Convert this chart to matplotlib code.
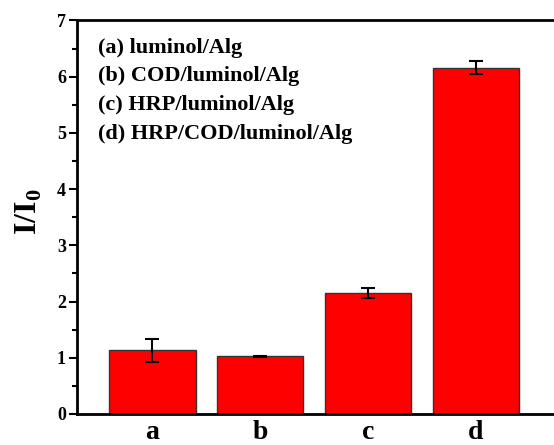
import matplotlib.pyplot as plt
from matplotlib.ticker import MultipleLocator

# data
labels = ['a', 'b', 'c', 'd']
values = [1.13, 1.03, 2.15, 6.16]
errors = [0.20, 0.01, 0.09, 0.12]
legend_lines = ['(a) luminol/Alg', '(b) COD/luminol/Alg',
                '(c) HRP/luminol/Alg', '(d) HRP/COD/luminol/Alg']

plt.rcParams['font.family'] = ['Liberation Serif', 'DejaVu Serif']
plt.rcParams['font.weight'] = 'bold'
plt.rcParams['mathtext.fontset'] = 'custom'
plt.rcParams['mathtext.rm'] = 'Liberation Serif:bold'
plt.rcParams['mathtext.bf'] = 'Liberation Serif:bold'

fig = plt.figure(figsize=(5.54, 4.45), dpi=100)
ax = fig.add_axes([77 / 554, (445 - 414) / 445, (558 - 77) / 554, (414 - 20.5) / 445])

x = range(len(labels))
ax.bar(x, values, width=0.8, color='#ff0000', edgecolor='#333333', linewidth=1.0)
ax.errorbar(x, values, yerr=errors, fmt='none', ecolor='black',
            elinewidth=1.5, capsize=5, capthick=1.5)

ax.set_xlim(-0.7, 3.76)
ax.set_ylim(0, 7)
ax.set_xticks(list(x))
ax.set_xticklabels(labels, fontsize=20, fontweight='bold')
ax.tick_params(axis='x', length=0, pad=4)
ax.yaxis.set_major_locator(MultipleLocator(1))
ax.yaxis.set_minor_locator(MultipleLocator(0.5))
ax.tick_params(axis='y', which='major', direction='out', length=6, width=1.5,
               labelsize=13, pad=2)
ax.tick_params(axis='y', which='minor', direction='out', length=3.5, width=1.5)
for lab in ax.get_yticklabels():
    lab.set_fontweight('bold')
for s in ['left', 'bottom', 'top', 'right']:
    ax.spines[s].set_linewidth(2)

# y label placed in pixels
fig.text(29 / 554, 1 - 212 / 445, 'I/I$_\\mathrm{0}$', rotation=90, fontsize=23,
         fontweight='bold', ha='center', va='center')

for i, t in enumerate(legend_lines):
    ax.text(98, 445 - 48 - i * 28.5, t, transform=None, fontsize=16,
            fontweight='bold', va='center', ha='left')

fig.savefig('out.png', dpi=100)
